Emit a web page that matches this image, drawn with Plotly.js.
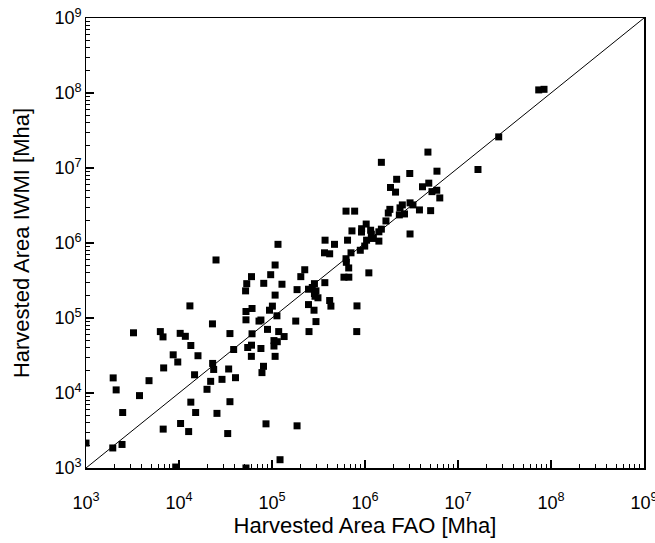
<!DOCTYPE html>
<html>
<head>
<meta charset="utf-8">
<script src="https://cdn.plot.ly/plotly-3.0.1.min.js"></script>
<style>html,body{margin:0;padding:0;background:#fff;}#chart{width:655px;height:543px;}</style>
</head>
<body>
<div id="chart"></div>
<script>
// Harvested area, FAO (x) vs IWMI (y)
const faoArea = [
  3.24e3, 6.3e3, 6.73e3, 1.03e4, 1.17e4, 1.34e4, 8.66e3, 1.6e4, 9.7e3, 6.84e3,
  1.96e3, 4.76e3, 1.47e4, 2.11e3, 3.76e3, 1.34e4, 2.48e3, 1.51e4, 6.76e3, 1.04e4,
  1.27e4, 1.94e3, 2.44e3, 9.22e3, 1.0e3, 1.31e4,
  2.29e4, 3.53e4, 3.87e4, 2.3e4, 2.36e4, 3.42e4, 2.19e4, 2.9e4, 4.05e4, 2.0e4,
  3.53e4, 2.56e4, 3.34e4, 2.5e4,
  5.25e4, 6.1e4, 5.25e4, 7.25e4, 7.6e4, 9.4e4, 1.01e5, 1.13e5, 6.1e4, 8.95e4,
  1.18e5, 1.35e5, 1.05e5, 1.14e5, 1.05e5, 6.02e4, 5.48e4, 7.6e4, 6.0e4, 1.08e5,
  8.1e4, 7.8e4, 8.62e4, 5.25e4, 1.16e5, 1.08e5, 6.02e4, 9.68e4, 5.35e4, 8.15e4,
  1.28e5, 5.2e4, 1.08e5,
  2.25e5, 2.04e5, 1.86e5, 2.86e5, 2.71e5, 2.47e5, 2.97e5, 2.86e5, 2.9e5, 3.12e5,
  2.47e5, 2.83e5, 1.8e5, 2.97e5, 2.5e5, 1.86e5, 1.22e5,
  3.72e5, 4.7e5, 6.49e5, 7.24e5, 9.17e5, 9.2e5, 3.67e5, 4.17e5, 7.07e5, 6.25e5,
  6.3e5, 6.68e5, 5.94e5, 6.7e5, 3.7e5, 4.17e5, 4.3e5, 8.2e5, 8.15e5, 6.25e5,
  7.74e5, 8.9e5, 9.93e5,
  1.03e6, 1.15e6, 1.17e6, 1.5e6, 1.41e6, 1.23e6, 1.41e6, 1.04e6, 1.1e6, 1.68e6,
  1.5e6,
  1.78e6, 1.85e6, 1.88e6, 2.13e6, 2.19e6, 2.34e6, 2.66e6, 2.52e6, 2.38e6, 3.05e6,
  3.28e6, 3.03e6, 3.05e6, 3.85e6, 5.08e6, 4.15e6, 4.85e6, 4.75e6, 5.25e6, 5.91e6,
  5.94e6, 6.37e6, 1.64e7, 2.74e7, 7.38e7, 8.41e7
];
const iwmiArea = [
  6.35e4, 6.59e4, 5.6e4, 6.24e4, 5.7e4, 4.3e4, 3.23e4, 3.14e4, 2.59e4, 2.16e4,
  1.59e4, 1.46e4, 1.75e4, 1.1e4, 9.23e3, 7.55e3, 5.49e3, 5.49e3, 3.3e3, 3.92e3,
  3.06e3, 1.85e3, 2.06e3, 1.03e3, 2.15e3, 1.45e5,
  8.35e4, 6.2e4, 3.8e4, 2.48e4, 2.06e4, 2.09e4, 1.43e4, 1.52e4, 1.6e4, 1.12e4,
  7.66e3, 5.35e3, 2.88e3, 5.94e5,
  1.22e5, 1.34e5, 9.46e4, 9.1e4, 9.4e4, 1.27e5, 1.44e5, 1.07e5, 6.16e4, 7.05e4,
  6.59e4, 5.66e4, 5.0e4, 4.83e4, 4.23e4, 4.34e4, 4.04e4, 3.92e4, 3.08e4, 3.08e4,
  2.27e4, 1.87e4, 3.88e3, 1.0e3, 9.6e5, 5.09e5, 3.56e5, 3.78e5, 2.87e5, 2.9e5,
  2.82e5, 2.3e5, 2.02e5,
  4.4e5, 3.56e5, 2.39e5, 2.87e5, 2.55e5, 2.42e5, 2.3e5, 2.12e5, 1.95e5, 1.86e5,
  1.51e5, 1.27e5, 9.1e4, 8.96e4, 6.59e4, 3.65e3, 1.29e3,
  1.09e6, 9.6e5, 1.09e6, 1.45e6, 1.4e6, 1.55e6, 7.4e5, 7.18e5, 7.4e5, 6.17e5,
  5.53e5, 4.65e5, 3.5e5, 3.5e5, 2.96e5, 1.71e5, 1.44e5, 1.45e5, 6.59e4, 2.66e6,
  2.66e6, 8.0e5, 9.1e5,
  1.79e6, 1.48e6, 1.31e6, 1.53e6, 1.41e6, 1.15e6, 1.06e6, 1.09e6, 4.0e5, 1.97e6,
  1.19e7,
  2.51e6, 2.81e6, 5.5e6, 4.77e6, 7.07e6, 2.37e6, 2.44e6, 3.22e6, 2.94e6, 3.43e6,
  3.22e6, 8.45e6, 1.32e6, 2.76e6, 2.7e6, 5.62e6, 6.28e6, 1.63e7, 4.84e6, 5.05e6,
  9.07e6, 3.99e6, 9.55e6, 2.6e7, 1.10e8, 1.12e8
];
// 1:1 reference line
const oneToOne = [1e3, 1e9];

const xTitle = 'Harvested Area FAO [Mha]';
const yTitle = 'Harvested Area IWMI [Mha]';

const FONT = 'Liberation Sans, Arial, Helvetica, sans-serif';

const axisCommon = {
  type: 'log',
  range: [3, 9],
  dtick: 1,
  exponentformat: 'power',
  showexponent: 'all',
  showgrid: false,
  zeroline: false,
  showline: true,
  linecolor: '#000',
  linewidth: 1.5,
  mirror: true,
  ticks: 'inside',
  ticklen: 8,
  tickwidth: 1.2,
  tickcolor: '#000',
  ticklabeloverflow: 'allow',
  tickfont: {family: FONT, size: 14.5, color: '#000'},
  minor: {dtick: 'D1', ticks: 'inside', ticklen: 4, tickwidth: 1, tickcolor: '#000', showgrid: false},
  fixedrange: true
};

const traces = [
  {
    x: oneToOne, y: oneToOne, type: 'scatter', mode: 'lines',
    line: {color: '#000', width: 1}, hoverinfo: 'skip', showlegend: false
  },
  {
    x: faoArea, y: iwmiArea, type: 'scatter', mode: 'markers',
    marker: {symbol: 'square', size: 7, color: '#000', line: {width: 0}},
    showlegend: false
  }
];

const layout = {
  width: 655, height: 543,
  margin: {l: 86, r: 11, t: 18, b: 75},
  paper_bgcolor: '#fff', plot_bgcolor: '#fff',
  font: {family: FONT, color: '#000'},
  xaxis: Object.assign({}, axisCommon, {
    ticklabelstandoff: 18,
    title: {text: xTitle, font: {family: FONT, size: 22, color: '#000'}, standoff: 1}
  }),
  yaxis: Object.assign({}, axisCommon, {
    ticklabelstandoff: 0,
    title: {text: yTitle, font: {family: FONT, size: 22, color: '#000'}, standoff: 18}
  }),
  showlegend: false
};

Plotly.newPlot('chart', traces, layout, {displayModeBar: false, staticPlot: true});
</script>
</body>
</html>
